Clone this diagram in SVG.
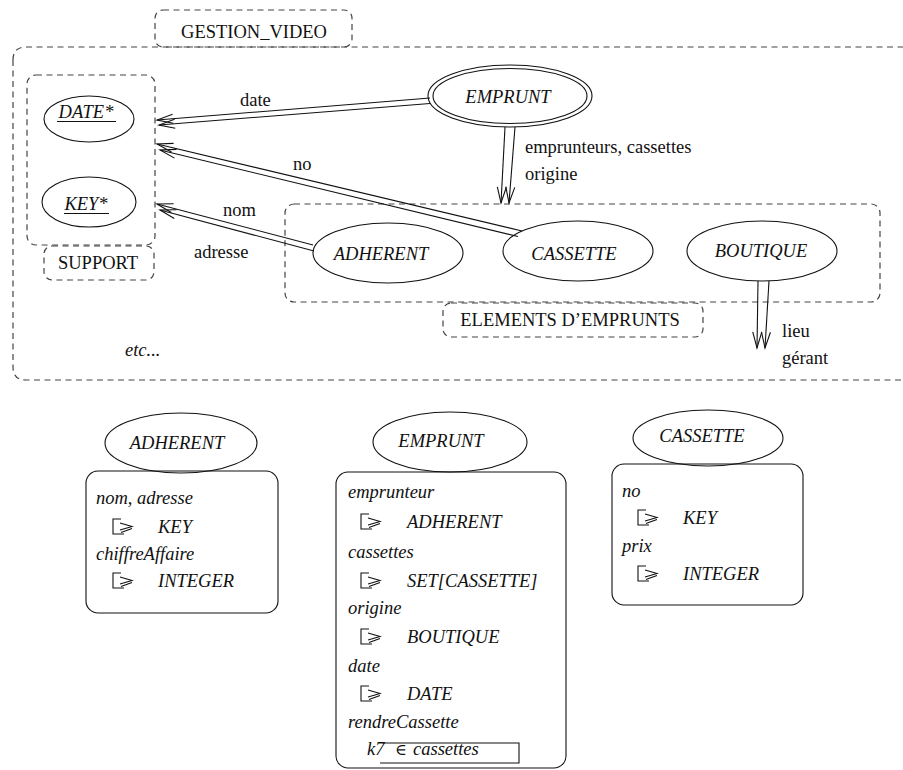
<svg xmlns="http://www.w3.org/2000/svg" width="903" height="770" viewBox="0 0 903 770" font-family="Liberation Serif, serif">
<style>
text{font-family:'Liberation Serif','DejaVu Serif',serif;font-size:18.5px;fill:#111}
.it{font-style:italic}
.m{text-anchor:middle}
.dash{fill:none;stroke:#444;stroke-width:1.2;stroke-dasharray:6,4.5}
.ln{fill:none;stroke:#111;stroke-width:1.1}
.con{fill:none;stroke:#111;stroke-width:1.1;marker-end:url(#v)}
</style>
<defs>
<marker id="v" markerUnits="userSpaceOnUse" markerWidth="20" markerHeight="12" viewBox="-1 -6 20 12" refX="16" refY="0" orient="auto">
<path d="M0,-4.5 L16,0 L0,4.5" fill="none" stroke="#111" stroke-width="1.1"/>
</marker>
<path id="sym" d="M8,-14 H0 V1 H11 M7,-10 L19,-6.5 L7,-3 M8,-0.5 L19,-4.5" fill="none" stroke="#111" stroke-width="1.1"/>
</defs>

<g id="gestion_video">
<path class="dash" d="M13,60 Q13,47 26,47 H915 M13,60 V367 Q13,380 26,380 H915"/>
<rect class="dash" x="155" y="10" width="197" height="37" rx="8"/>
<text class="m" x="254" y="38">GESTION_VIDEO</text>
<text class="it" x="125" y="356">etc...</text>
</g>

<g id="support">
<rect class="dash" x="27" y="75" width="128" height="170" rx="9"/>
<rect class="dash" x="44" y="246" width="110" height="34" rx="8"/>
<text class="m" x="98" y="269">SUPPORT</text>
</g>

<g id="date_star">
<ellipse class="ln" cx="89" cy="119" rx="45" ry="23"/>
<text class="it m" x="86" y="118">DATE*</text>
<line class="ln" x1="57" y1="121.5" x2="116" y2="121.5"/>
</g>

<g id="key_star">
<ellipse class="ln" cx="89" cy="202" rx="47" ry="25"/>
<text class="it m" x="86" y="210">KEY*</text>
<line class="ln" x1="64" y1="213.5" x2="109" y2="213.5"/>
</g>

<g id="emprunt">
<ellipse class="ln" cx="510" cy="96" rx="82" ry="31"/>
<ellipse class="ln" cx="510" cy="96" rx="77" ry="27.5"/>
<text class="it m" x="508" y="103">EMPRUNT</text>
</g>

<g id="elements_emprunts">
<rect class="dash" x="285" y="204" width="595" height="98" rx="9"/>
<rect class="dash" x="443" y="303" width="260" height="34" rx="8"/>
<text class="m" x="570" y="326">ELEMENTS D’EMPRUNTS</text>
</g>

<g id="adherent">
<ellipse class="ln" cx="388" cy="253" rx="75" ry="30"/>
<text class="it m" x="381" y="260">ADHERENT</text>
</g>

<g id="cassette">
<ellipse class="ln" cx="578" cy="251" rx="75" ry="30"/>
<text class="it m" x="574" y="260">CASSETTE</text>
</g>

<g id="boutique">
<ellipse class="ln" cx="762" cy="251" rx="75" ry="30"/>
<text class="it m" x="761" y="257">BOUTIQUE</text>
</g>

<g id="connectors">
<line class="con" x1="430" y1="98" x2="157" y2="120"/>
<line class="con" x1="430" y1="103.5" x2="159" y2="125"/>
<line class="con" x1="522" y1="231" x2="157" y2="144"/>
<line class="con" x1="518" y1="236.5" x2="160" y2="150"/>
<line class="con" x1="313" y1="245" x2="157" y2="204"/>
<line class="con" x1="314" y1="251" x2="160" y2="210"/>
<line class="con" x1="505" y1="127" x2="501" y2="203"/>
<line class="con" x1="515" y1="127" x2="509" y2="203"/>
<line class="con" x1="758" y1="281" x2="757" y2="348"/>
<line class="con" x1="769" y1="281" x2="765" y2="348"/>
<text x="240" y="106">date</text>
<text x="293" y="170">no</text>
<text x="223" y="216">nom</text>
<text x="194" y="258">adresse</text>
<text x="525" y="153">emprunteurs, cassettes</text>
<text x="525" y="180">origine</text>
<text x="782" y="337">lieu</text>
<text x="782" y="364">gérant</text>
</g>

<g id="adherent_class">
<ellipse class="ln" cx="181" cy="443" rx="76" ry="30"/>
<text class="it m" x="177" y="449">ADHERENT</text>
<rect class="ln" x="86" y="471" width="192" height="142" rx="12"/>
<text class="it" x="96" y="504">nom, adresse</text>
<use href="#sym" x="113" y="533"/>
<text class="it" x="158" y="533">KEY</text>
<text class="it" x="96" y="560">chiffreAffaire</text>
<use href="#sym" x="113" y="587"/>
<text class="it" x="158" y="587">INTEGER</text>
</g>

<g id="emprunt_class">
<ellipse class="ln" cx="450" cy="442" rx="77" ry="30"/>
<text class="it m" x="441" y="447">EMPRUNT</text>
<rect class="ln" x="336" y="472" width="230" height="296" rx="12"/>
<text class="it" x="348" y="498">emprunteur</text>
<use href="#sym" x="361" y="528"/>
<text class="it" x="407" y="528">ADHERENT</text>
<text class="it" x="348" y="558">cassettes</text>
<use href="#sym" x="361" y="587"/>
<text class="it" x="407" y="587">SET[CASSETTE]</text>
<text class="it" x="348" y="614">origine</text>
<use href="#sym" x="361" y="643"/>
<text class="it" x="407" y="643">BOUTIQUE</text>
<text class="it" x="348" y="672">date</text>
<use href="#sym" x="361" y="700"/>
<text class="it" x="407" y="700">DATE</text>
<text class="it" x="348" y="728">rendreCassette</text>
<text class="it" x="367" y="755">k7</text>
<text x="395" y="755" style="font-size:16px">∈</text>
<text class="it" x="413" y="755">cassettes</text>
<path class="ln" d="M383,743 H519 V763 H380"/>
</g>

<g id="cassette_class">
<ellipse class="ln" cx="708" cy="438" rx="75" ry="28"/>
<text class="it m" x="702" y="442">CASSETTE</text>
<rect class="ln" x="612" y="464" width="191" height="141" rx="12"/>
<text class="it" x="622" y="497">no</text>
<use href="#sym" x="638" y="524"/>
<text class="it" x="683" y="524">KEY</text>
<text class="it" x="622" y="552">prix</text>
<use href="#sym" x="638" y="580"/>
<text class="it" x="683" y="580">INTEGER</text>
</g>
</svg>
